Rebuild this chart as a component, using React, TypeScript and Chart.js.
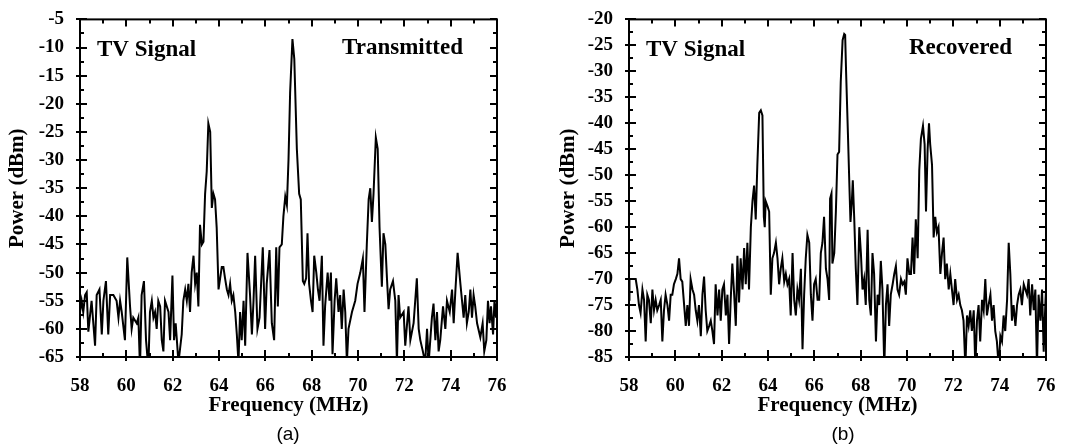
import React, { useEffect, useRef } from "react";
import { Chart, registerables } from "chart.js";

Chart.register(...registerables);

// ---------- Data ----------
const freqA = [58.00,58.07,58.14,58.22,58.29,58.36,58.50,58.65,58.72,58.84,58.94,59.01,59.12,59.22,59.30,59.44,59.58,59.66,59.73,59.80,59.94,60.04,60.16,60.23,60.30,60.45,60.52,60.59,60.66,60.76,60.85,60.95,61.02,61.10,61.17,61.24,61.31,61.38,61.46,61.53,61.60,61.67,61.82,61.89,61.99,62.06,62.13,62.25,62.39,62.46,62.54,62.61,62.68,62.75,62.82,62.90,62.97,63.04,63.11,63.18,63.26,63.33,63.40,63.47,63.54,63.62,63.69,63.76,63.83,63.90,63.98,64.05,64.12,64.19,64.26,64.34,64.41,64.48,64.55,64.62,64.70,64.77,64.84,64.91,64.98,65.06,65.13,65.23,65.34,65.42,65.49,65.56,65.66,65.75,65.89,65.99,66.06,66.18,66.28,66.38,66.47,66.54,66.61,66.71,66.78,66.86,66.93,67.00,67.07,67.17,67.25,67.36,67.46,67.53,67.62,67.68,67.76,67.82,67.89,67.97,68.04,68.11,68.20,68.27,68.34,68.44,68.51,68.58,68.69,68.77,68.83,68.90,68.99,69.06,69.16,69.23,69.30,69.38,69.45,69.52,69.59,69.74,69.88,69.98,70.10,70.21,70.28,70.38,70.46,70.53,70.60,70.67,70.77,70.85,70.93,71.03,71.10,71.18,71.25,71.32,71.39,71.51,71.61,71.68,71.75,71.82,71.97,72.04,72.18,72.26,72.40,72.54,72.62,72.69,72.80,72.90,72.98,73.05,73.19,73.26,73.34,73.41,73.48,73.55,73.67,73.77,73.84,73.96,74.06,74.13,74.20,74.30,74.42,74.49,74.56,74.63,74.70,74.78,74.85,74.92,74.99,75.06,75.14,75.28,75.38,75.45,75.54,75.61,75.68,75.74,75.83,75.89,75.96,76.00];
const powerA = [-57,-55,-57,-54,-53.5,-60.5,-55,-63,-54,-53,-61,-55,-51.5,-61,-54,-54,-55,-58,-55,-57,-62,-47.3,-56,-60,-58,-59,-58,-67,-54,-51.5,-62,-67,-57,-55,-58,-57,-60,-55,-56,-62,-64,-55,-57,-62,-50.5,-62,-59,-66,-61,-55,-53,-55,-52,-57,-50,-47,-52,-50,-56,-41.5,-45,-44.5,-36,-32,-23.5,-25,-38.5,-36,-37,-42,-53,-51,-49,-49,-51,-53,-54,-52,-55,-54,-57,-61,-66,-57,-62,-55,-63,-46.5,-54,-61,-55,-47,-60,-58,-45.5,-60,-52,-46,-59,-62,-45.5,-56,-45.5,-45,-40,-36.5,-38,-30,-18,-8.5,-12,-28,-36,-37,-51.5,-52,-51,-43,-52,-55,-57,-47,-50,-53,-55,-47,-63,-56,-50,-55,-50,-64.5,-55,-51,-57,-54,-60,-53,-57,-66,-60,-57,-55,-52,-50,-47.5,-57,-45,-37,-35,-41,-36,-26,-28,-42,-52.5,-43,-45,-51,-56.5,-53,-51.5,-55,-66,-54,-58,-57,-63,-56,-62,-59,-51,-60,-62,-64,-66,-60,-66,-58,-55.5,-62,-57,-64,-62,-56,-60,-55,-57,-53,-59,-53.5,-46.5,-52,-55,-58,-54,-59,-57,-53,-58,-54,-56,-59,-61.5,-59,-64,-62,-55,-59,-56,-61,-55,-58,-55];

const freqB = [58.00,58.02,58.29,58.36,58.43,58.50,58.58,58.65,58.72,58.79,58.86,58.94,59.01,59.08,59.15,59.22,59.30,59.37,59.44,59.51,59.58,59.66,59.73,59.80,59.87,59.94,60.02,60.09,60.16,60.23,60.30,60.38,60.45,60.52,60.59,60.66,60.74,60.81,60.88,60.95,61.02,61.10,61.17,61.24,61.31,61.38,61.46,61.53,61.60,61.67,61.74,61.82,61.89,61.96,62.03,62.10,62.18,62.25,62.32,62.39,62.46,62.54,62.61,62.68,62.75,62.82,62.90,62.97,63.04,63.11,63.18,63.26,63.33,63.40,63.47,63.54,63.62,63.69,63.76,63.82,63.86,63.90,63.98,64.05,64.12,64.19,64.26,64.34,64.41,64.48,64.55,64.62,64.70,64.77,64.84,64.91,64.98,65.06,65.13,65.20,65.27,65.34,65.42,65.49,65.56,65.63,65.70,65.78,65.85,65.92,65.99,66.06,66.14,66.21,66.28,66.35,66.42,66.50,66.57,66.64,66.68,66.74,66.78,66.86,66.93,67.00,67.07,67.14,67.22,67.29,67.33,67.37,67.45,67.52,67.56,67.62,67.66,67.72,67.79,67.86,67.94,68.01,68.08,68.15,68.22,68.30,68.37,68.44,68.51,68.58,68.66,68.73,68.80,68.87,68.94,69.02,69.09,69.16,69.23,69.30,69.38,69.45,69.52,69.59,69.66,69.74,69.81,69.88,69.95,70.02,70.10,70.17,70.24,70.31,70.38,70.46,70.53,70.60,70.69,70.76,70.82,70.89,70.95,71.00,71.08,71.15,71.22,71.29,71.36,71.44,71.51,71.58,71.65,71.72,71.80,71.87,71.94,72.01,72.08,72.16,72.23,72.30,72.37,72.44,72.52,72.59,72.66,72.73,72.80,72.88,72.95,73.02,73.09,73.16,73.24,73.31,73.38,73.45,73.52,73.60,73.67,73.74,73.81,73.88,73.96,74.03,74.10,74.17,74.24,74.32,74.39,74.46,74.53,74.60,74.68,74.75,74.82,74.89,74.96,75.04,75.11,75.18,75.25,75.32,75.40,75.47,75.54,75.61,75.68,75.76,75.83,75.90,75.97,76.00];
const powerB = [-74,-70,-70,-72,-75,-76.5,-72,-74,-82,-73,-74,-78.5,-72,-76,-74,-76,-75,-74,-82,-76,-73,-75,-78,-73,-73,-71,-70,-69,-66,-70,-70.5,-75,-79,-75,-79,-70,-72,-73,-76,-78,-75,-81,-73,-69.5,-76,-80,-79,-78,-80,-82.5,-71,-77,-72,-78,-72,-71,-77,-73,-82.5,-74,-67,-73,-79,-65.5,-74.5,-66,-72,-64,-71,-63,-72,-60,-55,-52,-58.5,-48,-38,-37.5,-38.5,-58,-60,-55,-56,-57,-73,-66,-65,-63,-66,-71,-68,-66,-70.5,-69,-71,-70,-77,-65,-74,-77,-72,-74,-68,-83.5,-73,-66,-61.5,-63,-73,-78,-71,-70,-74,-74,-65,-63,-58,-68,-70,-74,-54.5,-53.5,-67,-65,-57,-46,-45.5,-32,-24,-22.8,-23,-30,-42,-53,-59,-55,-51,-58,-68,-75,-60,-65,-72,-70,-75,-60.5,-74,-77,-65,-69,-82,-73,-75,-66.5,-72,-87,-75,-71,-79,-73,-71,-69,-67.5,-72,-73,-70,-71,-70.5,-73,-66,-69,-69,-62,-69,-58.5,-66,-49,-43,-40.5,-44,-57,-45,-40,-44,-48,-62,-58,-61,-60,-69,-65,-62,-70,-67,-72,-69,-72,-75,-70,-74,-73,-75,-76,-78,-87,-77,-79,-76,-80,-76,-87,-78,-75,-82,-74,-76,-70,-77,-75,-73,-78,-75,-80,-82,-87,-81,-82,-77,-80,-74,-63,-69,-78,-75,-79,-75,-73,-72,-75,-71,-72,-73,-70,-77,-71,-76,-72,-87,-73,-78,-72,-84,-75,-72];

const xTickLabels = [58, 60, 62, 64, 66, 68, 70, 72, 74, 76];
const xTitle = "Frequency (MHz)";
const yTitle = "Power (dBm)";

const SERIF = "'Liberation Serif', 'Times New Roman', serif";

type PanelCfg = {
  left: number;
  width: number;
  yMin: number;
  yMax: number;
  yAxisWidth: number;
  padRight: number;
  yTitlePad: number;
  freq: number[];
  power: number[];
  leftText: string;
  rightText: string;
  panelLabel: string;
  labelX: number;
};

const panels: PanelCfg[] = [
  {
    left: 0, width: 538, yMin: -65, yMax: -5, yAxisWidth: 80, padRight: 41, yTitlePad: 5,
    freq: freqA, power: powerA, leftText: "TV Signal", rightText: "Transmitted", panelLabel: "(a)", labelX: 288,
  },
  {
    left: 538, width: 539, yMin: -85, yMax: -20, yAxisWidth: 91, padRight: 31, yTitlePad: 18,
    freq: freqB, power: powerB, leftText: "TV Signal", rightText: "Recovered", panelLabel: "(b)", labelX: 305,
  },
];

const H = 448;

function makeFramePlugin(cfg: PanelCfg) {
  return {
    id: "frameTicks",
    afterDatasetsDraw(chart: any) {
      const { ctx, chartArea } = chart;
      const { left, right, top, bottom } = chartArea;
      const xs = chart.scales.x;
      const ys = chart.scales.y;
      ctx.save();
      ctx.strokeStyle = "#000";
      ctx.lineWidth = 2;
      ctx.strokeRect(left, top, right - left, bottom - top);
      ctx.beginPath();
      for (let v = 58; v <= 76; v += 1) {
        const px = Math.round(xs.getPixelForValue(v));
        const major = v % 2 === 0;
        const inL = major ? 7 : 4;
        const outL = major ? 4 : 0;
        ctx.moveTo(px, bottom + outL);
        ctx.lineTo(px, bottom - inL);
        ctx.moveTo(px, top);
        ctx.lineTo(px, top + inL);
      }
      for (let v = cfg.yMin; v <= cfg.yMax + 0.001; v += 2.5) {
        const py = Math.round(ys.getPixelForValue(v));
        const major = Math.abs((v - cfg.yMin) % 5) < 0.01;
        const inL = major ? 7 : 4;
        const outL = major ? 4 : 0;
        ctx.moveTo(left - outL, py);
        ctx.lineTo(left + inL, py);
        ctx.moveTo(right, py);
        ctx.lineTo(right - inL, py);
      }
      ctx.stroke();

      ctx.fillStyle = "#000";
      ctx.font = `bold 23px ${SERIF}`;
      ctx.textBaseline = "middle";
      ctx.textAlign = "left";
      ctx.fillText(cfg.leftText, left + 17, 50);
      ctx.textAlign = "right";
      ctx.fillText(cfg.rightText, right - 34, 48);

      ctx.font = `19px 'Liberation Sans', Arial, sans-serif`;
      ctx.textAlign = "center";
      ctx.fillText(cfg.panelLabel, cfg.labelX, 435);
      ctx.restore();
    },
  };
}

function Panel({ cfg }: { cfg: PanelCfg }) {
  const ref = useRef<HTMLCanvasElement>(null);
  useEffect(() => {
    if (!ref.current) return;
    const data = cfg.freq.map((f, i) => ({ x: f, y: cfg.power[i] }));
    const tickFont = { family: SERIF, weight: "bold" as const, size: 19 };
    const titleFont = { family: SERIF, weight: "bold" as const, size: 21 };
    const chart = new Chart(ref.current, {
      type: "line",
      data: {
        datasets: [
          {
            data,
            borderColor: "#000",
            borderWidth: 2,
            pointRadius: 0,
            fill: false,
            tension: 0,
          },
        ],
      },
      options: {
        animation: false,
        responsive: false,
        devicePixelRatio: 1,
        layout: { padding: { top: 18, right: cfg.padRight, left: 0, bottom: 0 } },
        plugins: { legend: { display: false }, tooltip: { enabled: false } },
        scales: {
          x: {
            type: "linear",
            min: 58,
            max: 76,
            grid: { display: false },
            border: { display: false },
            afterBuildTicks: (s: any) => {
              s.ticks = xTickLabels.map((v) => ({ value: v }));
            },
            ticks: { font: tickFont, color: "#000", padding: 10, maxRotation: 0, autoSkip: false },
            title: { display: true, text: xTitle, font: titleFont, color: "#000", padding: { top: 0, bottom: 30 } },
            afterFit: (s: any) => { s.height = H - 357; },
          },
          y: {
            type: "linear",
            min: cfg.yMin,
            max: cfg.yMax,
            grid: { display: false },
            border: { display: false },
            ticks: { stepSize: 5, font: tickFont, color: "#000", padding: 8, autoSkip: false,
              callback: (v: any) => String(v) },
            title: { display: true, text: yTitle, font: titleFont, color: "#000", padding: { top: cfg.yTitlePad, bottom: 0 } },
            afterFit: (s: any) => { s.width = cfg.yAxisWidth; },
          },
        },
      },
      plugins: [makeFramePlugin(cfg)],
    } as any);
    return () => chart.destroy();
  }, [cfg]);
  return (
    <canvas
      ref={ref}
      width={cfg.width}
      height={H}
      style={{ position: "absolute", left: cfg.left, top: 0, width: cfg.width, height: H }}
    />
  );
}

export default function App() {
  return (
    <div style={{ position: "absolute", left: 0, top: 0, width: 1077, height: H, background: "#fff" }}>
      {panels.map((p, i) => (
        <Panel key={i} cfg={p} />
      ))}
    </div>
  );
}
